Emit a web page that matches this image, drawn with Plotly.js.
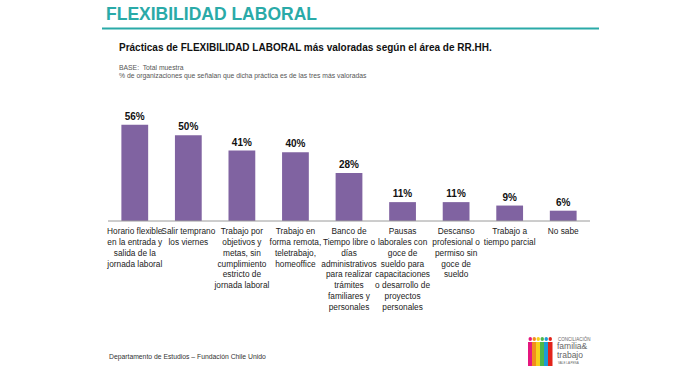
<!DOCTYPE html>
<html><head><meta charset="utf-8">
<script src="https://cdn.plot.ly/plotly-3.0.1.min.js"></script>
<style>html,body{margin:0;padding:0;background:#fff}</style>
</head><body>
<div id="chart" style="width:700px;height:367px"></div>
<script>
const categories = [
  "Horario flexible<br>en la entrada y<br>salida de la<br>jornada laboral",
  "Salir temprano<br>los viernes",
  "Trabajo por<br>objetivos y<br>metas, sin<br>cumplimiento<br>estricto de<br>jornada laboral",
  "Trabajo en<br>forma remota,<br>teletrabajo,<br>homeoffice",
  "Banco de<br>Tiempo libre o<br>días<br>administrativos<br>para realizar<br>trámites<br>familiares y<br>personales",
  "Pausas<br>laborales con<br>goce de<br>sueldo para<br>capacitaciones<br>o desarrollo de<br>proyectos<br>personales",
  "Descanso<br>profesional o<br>permiso sin<br>goce de<br>sueldo",
  "Trabajo a<br>tiempo parcial",
  "No sabe"
];
const values = [56, 50, 41, 40, 28, 11, 11, 9, 6];

const W = 700, H = 367;
const L = 108, R = 590, T = 118, B = 221;
const px = x => (x - L) / (R - L);
const py = y => (B - y) / (B - T);
const ARIAL = "'Liberation Sans', Arial, sans-serif";

const trace = {
  type: 'bar',
  x: categories,
  y: values,
  marker: {color: '#8063A1', line: {width: 0}},
  text: values.map(v => '<b>' + v + '%</b>'),
  textposition: 'outside',
  textfont: {family: ARIAL, size: 10, color: '#111'},
  cliponaxis: false,
  hoverinfo: 'none'
};

function ann(text, x, y, size, color) {
  return {
    text: text, xref: 'paper', yref: 'paper', x: px(x), y: py(y),
    xanchor: 'left', yanchor: 'middle', showarrow: false,
    font: {family: ARIAL, size: size, color: color || '#222'}
  };
}

const annotations = [
  ann('<b>FLEXIBILIDAD LABORAL</b>', 104, 14, 17.5, '#2AAAA8'),
  ann('<b>Prácticas de FLEXIBILIDAD LABORAL más valoradas según el área de RR.HH.</b>', 117, 47, 10, '#111'),
  ann('BASE:  Total muestra', 117, 67, 6.8, '#555'),
  ann('% de organizaciones que señalan que dicha práctica es de las tres más valoradas', 117, 76, 6.8, '#555'),
  ann('Departamento de Estudios – Fundación Chile Unido', 107, 357, 6.8, '#333'),
  ann('CONCILIACIÓN', 556, 339, 4.5, '#666'),
  ann('familia&', 555, 346, 8.5, '#666'),
  ann('trabajo', 555, 355, 8.5, '#666'),
  ann('VALE LA PENA', 556, 363, 3, '#666')
];

const shapes = [
  {type: 'line', xref: 'paper', yref: 'paper', x0: px(102), x1: px(599), y0: py(28.5), y1: py(28.5),
   line: {color: '#2AAAA8', width: 2}},
  {type: 'line', xref: 'paper', yref: 'paper', x0: px(108), x1: px(590), y0: 0, y1: 0,
   line: {color: '#9a9a9a', width: 1}}
];
const logoColors = ['#E5177E', '#F28C1E', '#F5D11A', '#4FB848', '#1E9AD6', '#E2231A'];
logoColors.forEach((c, i) => {
  const x0 = 528 + i * 4;
  shapes.push({type: 'rect', xref: 'paper', yref: 'paper', x0: px(x0), x1: px(x0 + 4.5),
    y0: py(366), y1: py(342), fillcolor: c, line: {width: 0}});
  shapes.push({type: 'circle', xref: 'paper', yref: 'paper', x0: px(x0 + 0.5), x1: px(x0 + 4),
    y0: py(341), y1: py(337), fillcolor: c, line: {width: 0}});
});

const layout = {
  width: W, height: H,
  margin: {l: L, r: W - R, t: T, b: H - B, pad: 0},
  paper_bgcolor: '#fff', plot_bgcolor: '#fff',
  bargap: 0.5,
  showlegend: false,
  xaxis: {
    type: 'category', showgrid: false, showline: false, zeroline: false,
    ticks: '', ticklen: 0, tickangle: 0, automargin: false, ticklabelstandoff: 4,
    tickfont: {family: ARIAL, size: 8.3, color: '#222'}
  },
  yaxis: {range: [0, 60], visible: false, fixedrange: true},
  annotations: annotations,
  shapes: shapes
};

Plotly.newPlot('chart', [trace], layout, {displayModeBar: false, staticPlot: true});
</script>
</body></html>
